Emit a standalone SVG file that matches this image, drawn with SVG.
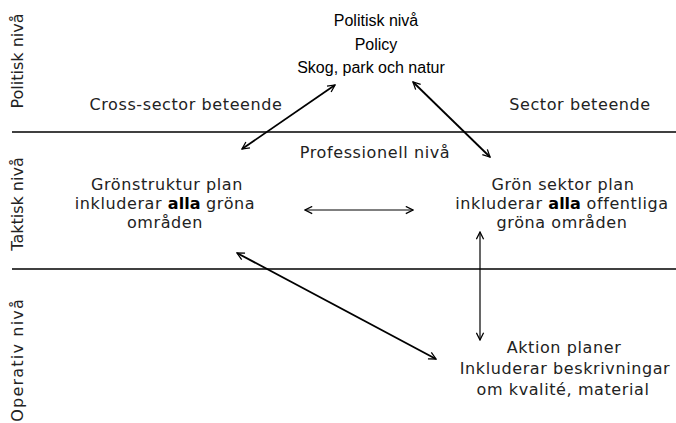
<svg xmlns="http://www.w3.org/2000/svg" width="676" height="423" viewBox="0 0 676 423">
<style>
.t{font-family:"DejaVu Sans",sans-serif;font-size:16px;letter-spacing:0.6px;fill:#222;text-anchor:middle}
.h{font-family:"Liberation Sans",Arial,sans-serif;font-size:16px;fill:#000;text-anchor:middle}
.s{font-family:"DejaVu Sans",sans-serif;font-size:16px;fill:#222}
.b{font-weight:bold;fill:#000;letter-spacing:0}
.ln{stroke:#000;stroke-width:1.6;fill:none}
.ar{stroke:#000;fill:none;marker-start:url(#m);marker-end:url(#m)}
</style>
<defs>
<marker id="m" viewBox="0 0 10 10" refX="9" refY="5" markerWidth="9" markerHeight="9" markerUnits="userSpaceOnUse" orient="auto-start-reverse">
<path d="M1,1 L9,5 L1,9" fill="none" stroke="#000" stroke-width="1.4"/>
</marker>
</defs>
<rect width="676" height="423" fill="#fff"/>
<g id="bands">
<line class="ln" x1="12" y1="132" x2="676" y2="132"/>
<line class="ln" x1="12" y1="269" x2="676" y2="269"/>
<text class="s" transform="translate(23,61) rotate(-90)" text-anchor="middle">Politisk nivå</text>
<text class="s" transform="translate(23,204) rotate(-90)" text-anchor="middle">Taktisk nivå</text>
<text class="s" transform="translate(23,298) rotate(-90)" text-anchor="end" letter-spacing="1.2">Operativ nivå</text>
<text class="t" x="186" y="110">Cross-sector beteende</text>
<text class="t" x="580" y="110">Sector beteende</text>
<text class="t" x="375" y="158">Professionell nivå</text>
</g>
<g id="politisk">
<text class="h" x="376" y="26">Politisk nivå</text>
<text class="h" x="376" y="50">Policy</text>
<text class="h" x="371" y="73">Skog, park och natur</text>
</g>
<g id="gronstruktur">
<text class="t" x="167" y="190">Grönstruktur plan</text>
<text class="t" x="165" y="209">inkluderar <tspan class="b">alla</tspan> gröna</text>
<text class="t" x="165" y="228">områden</text>
</g>
<g id="gronsektor">
<text class="t" x="563" y="190">Grön sektor plan</text>
<text class="t" x="562" y="209">inkluderar <tspan class="b">alla</tspan> offentliga</text>
<text class="t" x="562" y="228">gröna områden</text>
</g>
<g id="aktion">
<text class="t" x="564" y="353">Aktion planer</text>
<text class="t" x="565" y="374">Inkluderar beskrivningar</text>
<text class="t" x="563" y="395">om kvalité, material</text>
</g>
<g id="connectors">
<line class="ar" stroke-width="1.8" x1="242" y1="149" x2="335" y2="85"/>
<line class="ar" stroke-width="1.8" x1="413" y1="82" x2="490" y2="157"/>
<line class="ar" stroke-width="1" x1="305" y1="210" x2="413" y2="210"/>
<line class="ar" stroke-width="1.2" x1="480" y1="232" x2="480" y2="340"/>
<line class="ar" stroke-width="1.8" x1="237" y1="253" x2="436" y2="359"/>
</g>
</svg>
